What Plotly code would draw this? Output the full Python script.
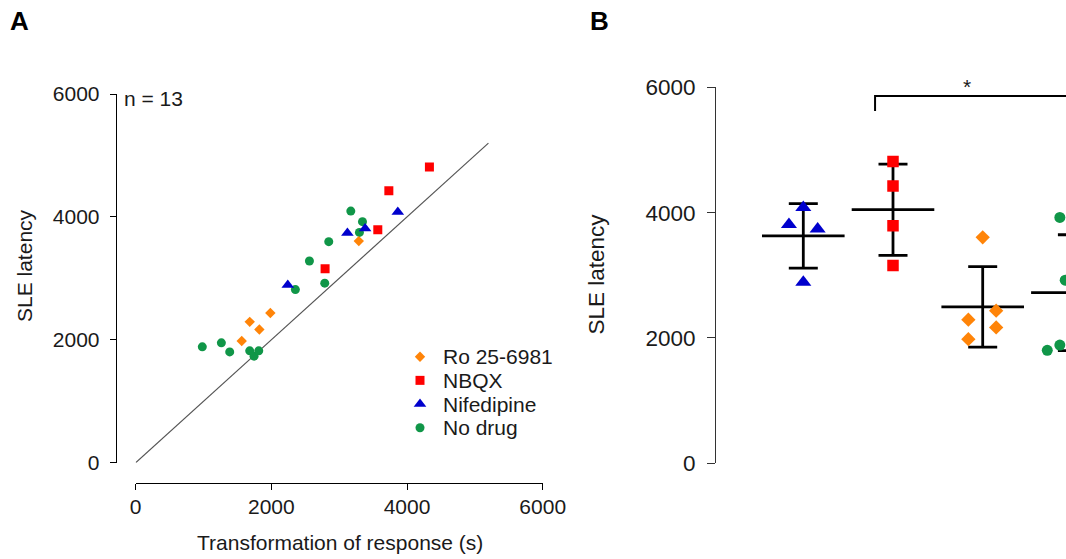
import numpy as np
import plotly.graph_objects as go

# ---------------- data ----------------
groups = ["Ro 25-6981", "NBQX", "Nifedipine", "No drug"]

ro_response = [1563, 1681, 1823, 1985, 3289]
ro_latency = [1980, 2292, 2168, 2436, 3606]

nbqx_response = [2792, 3569, 3732, 4330]
nbqx_latency = [3158, 3790, 4425, 4814]

nif_response = [2242, 3121, 3382, 3864]
nif_latency = [2890, 3740, 3810, 4080]

nodrug_response = [982, 1263, 1386, 1681, 1745, 1814, 2354, 2561, 2787, 2846, 3171, 3343, 3298]
nodrug_latency = [1886, 1950, 1803, 1820, 1734, 1820, 2817, 3282, 2922, 3597, 4094, 3923, 3748]

axis_ticks = [0, 2000, 4000, 6000]
identity_end = 5200          # y = x reference line, drawn from 0 to here
n_label = "n = 13"
significance = "*"

# ---------------- styling ----------------
W, H = 1066, 559
FONT = "Liberation Sans, Arial, sans-serif"
INK = "#1a1a1a"

colors = {"Ro 25-6981": "#FF8408", "NBQX": "#FF0000",
          "Nifedipine": "#0000CD", "No drug": "#109648"}
symbols = {"Ro 25-6981": "diamond", "NBQX": "square",
           "Nifedipine": "triangle-up", "No drug": "circle"}
size_a = {"Ro 25-6981": 8, "NBQX": 9, "Nifedipine": 11, "No drug": 9}
size_b = {"Ro 25-6981": 11, "NBQX": 11.5, "Nifedipine": 14, "No drug": 11}

response = {"Ro 25-6981": ro_response, "NBQX": nbqx_response,
            "Nifedipine": nif_response, "No drug": nodrug_response}
latency = {"Ro 25-6981": ro_latency, "NBQX": nbqx_latency,
           "Nifedipine": nif_latency, "No drug": nodrug_latency}

# column order in panel B and horizontal spread of the points inside a column
b_order = ["Nifedipine", "NBQX", "Ro 25-6981", "No drug"]
b_pos = {g: i + 1 for i, g in enumerate(b_order)}
spread = {
    "Nifedipine": [0, 0.16, -0.16, 0],
    "NBQX": [0, 0, 0, 0],
    "Ro 25-6981": [-0.16, -0.16, 0.15, 0.15, 0],
    "No drug": [-0.14, 0.14, -0.28, 0, 0.14, 0.28, 0.1, 0, -0.08, 0.1, -0.01, -0.14, 0.14],
}


def px_x(p):
    return p / W


def px_y(p):
    return 1 - p / H


fig = go.Figure()

# ---------------- panel A: scatter ----------------
fig.add_trace(go.Scatter(
    x=[0, identity_end], y=[0, identity_end], mode="lines",
    line=dict(color="#555555", width=1.2), showlegend=False,
    hoverinfo="skip", xaxis="x", yaxis="y"))

for g in ["No drug", "Nifedipine", "NBQX", "Ro 25-6981"]:
    fig.add_trace(go.Scatter(
        x=response[g], y=latency[g], mode="markers", name=g, showlegend=False,
        marker=dict(symbol=symbols[g], size=size_a[g], color=colors[g], line=dict(width=0)),
        xaxis="x", yaxis="y"))

# compact key for panel A (one row per group on its own small axis)
for i, g in enumerate(groups):
    fig.add_trace(go.Scatter(
        x=[0], y=[i], mode="markers", showlegend=False, hoverinfo="skip",
        marker=dict(symbol=symbols[g], size=size_a[g], color=colors[g], line=dict(width=0)),
        xaxis="x3", yaxis="y3", cliponaxis=False))

# ---------------- panel B: mean +/- SD with individual points ----------------
for g in b_order:
    vals = np.array(latency[g], dtype=float)
    fig.add_trace(go.Scatter(
        x=[b_pos[g]], y=[vals.mean()], mode="markers", showlegend=False,
        marker=dict(symbol="line-ew", size=59, color="black",
                    line=dict(color="black", width=2.8)),
        error_y=dict(type="data", array=[vals.std(ddof=1)], visible=True,
                     color="black", thickness=2.8, width=14.5),
        xaxis="x2", yaxis="y2", hoverinfo="skip"))

for g in b_order:
    xs = [b_pos[g] + d for d in spread[g]]
    fig.add_trace(go.Scatter(
        x=xs, y=latency[g], mode="markers", showlegend=False, name=g,
        marker=dict(symbol=symbols[g], size=size_b[g], color=colors[g], line=dict(width=0)),
        xaxis="x2", yaxis="y2"))

# significance bracket between NBQX and No drug
bracket_left = b_pos["NBQX"] - 0.2
bracket_right = b_pos["No drug"] + 0.2
bracket_top, bracket_leg = 5860, 5620
fig.add_trace(go.Scatter(
    x=[bracket_left, bracket_left, bracket_right],
    y=[bracket_leg, bracket_top, bracket_top], mode="lines",
    line=dict(color="black", width=2), showlegend=False, hoverinfo="skip",
    xaxis="x2", yaxis="y2"))

axis_common = dict(showgrid=False, zeroline=False, showline=True,
                   ticks="outside", tickcolor="black", linecolor="black",
                   linewidth=1, tickwidth=1, tickvals=axis_ticks,
                   tickfont=dict(family=FONT, size=21, color=INK))

row_gap = 23.67
key_center = 392.2
fig.update_layout(
    width=W, height=H,
    margin=dict(l=0, r=0, t=0, b=0, autoexpand=False),
    paper_bgcolor="white", plot_bgcolor="white",
    font=dict(family=FONT, color=INK),
    showlegend=False,
    xaxis=dict(domain=[px_x(135.7), px_x(542.7)], range=[0, 6000],
               anchor="free", position=px_y(482.7), ticklen=6,
               ticklabelstandoff=-1, **axis_common),
    yaxis=dict(domain=[px_y(462.7), px_y(94)], range=[0, 6000],
               anchor="free", position=px_x(115.7), ticklen=6,
               ticklabelstandoff=6, **axis_common),
    xaxis2=dict(domain=[px_x(716), 1.0],
                range=[1 - 87.3 / 89.7, 1 + 262.7 / 89.7],
                visible=False, anchor="y2"),
    yaxis2=dict(domain=[px_y(463.3), px_y(87.3)], range=[0, 6000],
                anchor="x2", showgrid=False, zeroline=False, showline=True,
                linecolor="#333333", linewidth=1, ticks="outside", ticklen=8,
                tickcolor="#333333", tickwidth=1, tickvals=axis_ticks,
                ticklabelstandoff=7,
                tickfont=dict(family=FONT, size=22.5, color=INK)),
    # small axis carrying the key of panel A
    xaxis3=dict(domain=[px_x(410), px_x(430)], range=[-1, 1],
                visible=False, anchor="y3"),
    yaxis3=dict(domain=[px_y(key_center + 2 * row_gap), px_y(key_center - 2 * row_gap)],
                range=[len(groups) - 0.5, -0.5], visible=False, anchor="x3"),
)

annotations = [
    dict(text="<b>A</b>", x=px_x(8), y=px_y(21.5), xanchor="left", yanchor="middle",
         font=dict(size=26, family=FONT, color="black")),
    dict(text="<b>B</b>", x=px_x(588), y=px_y(21.5), xanchor="left", yanchor="middle",
         font=dict(size=26, family=FONT, color="black")),
    dict(text="Transformation of response (s)", x=px_x(340), y=px_y(542),
         xanchor="center", yanchor="middle", font=dict(size=21)),
    dict(text="SLE latency", x=px_x(24), y=px_y(266), textangle=-90,
         xanchor="center", yanchor="middle", font=dict(size=21)),
    dict(text="SLE latency", x=px_x(596), y=px_y(274.5), textangle=-90,
         xanchor="center", yanchor="middle", font=dict(size=22.5)),
    dict(text=n_label, x=px_x(121.5), y=px_y(98.5), xanchor="left", yanchor="middle",
         font=dict(size=21)),
    dict(text=significance, x=2.83, xref="x2", y=px_y(86), yref="paper",
         xanchor="center", yanchor="middle", font=dict(size=21)),
]
for i, g in enumerate(groups):
    annotations.append(dict(text=g, x=px_x(441), xref="paper", y=i, yref="y3",
                            xanchor="left", yanchor="middle", font=dict(size=21)))
for a in annotations:
    a.setdefault("xref", "paper")
    a.setdefault("yref", "paper")
    a["showarrow"] = False
fig.update_layout(annotations=annotations)

fig.write_html("out.html")
